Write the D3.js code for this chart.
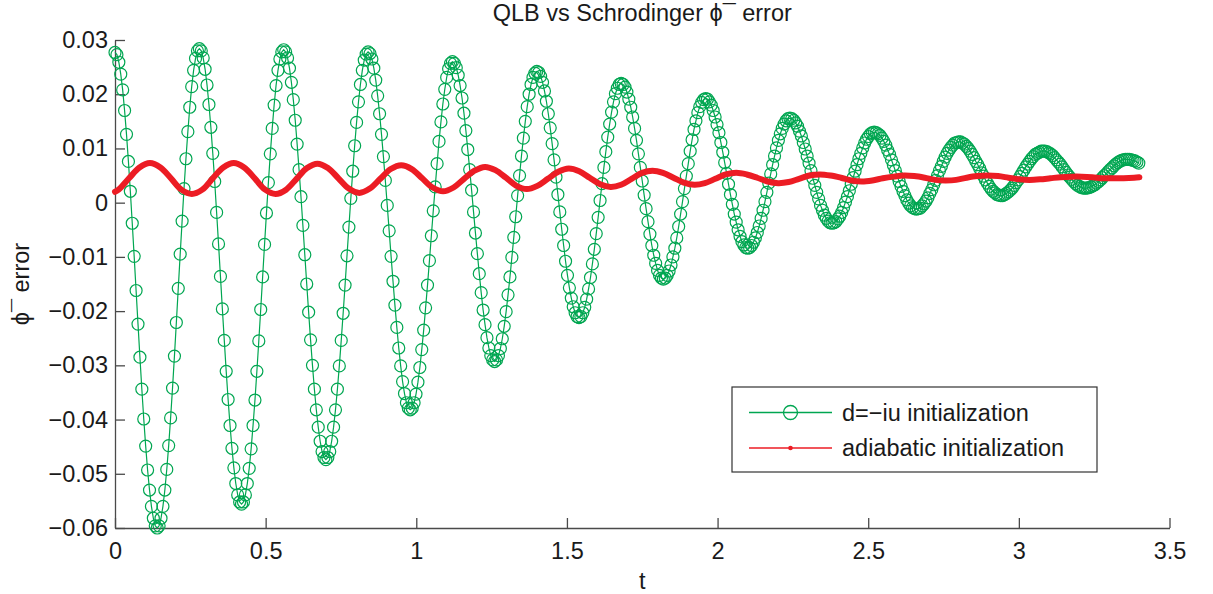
<!DOCTYPE html>
<html>
<head>
<meta charset="utf-8">
<script src="https://cdn.jsdelivr.net/npm/d3@7"></script>
<style>
  body { margin: 0; background: #fff; }
  text { font-family: "Liberation Sans", Arial, Helvetica, sans-serif; fill: #1a1a1a; }
</style>
</head>
<body>
<svg id="chart" width="1213" height="594"></svg>
<script>
// QLB vs Schrodinger phi- error — two initialisations, error vs time t.

const xTicks = [0, 0.5, 1, 1.5, 2, 2.5, 3, 3.5];
const yTicks = [0.03, 0.02, 0.01, 0, -0.01, -0.02, -0.03, -0.04, -0.05, -0.06];
const seriesNames = ["d=\u2212iu initialization", "adiabatic initialization"];

// d=-iu initialization: sampled every 0.28/44 in t, starting at t = 0
const GREEN_DT = 0.28 / 44;
const greenErr = [
  0.0277, 0.0273, 0.0259, 0.0237, 0.0208, 0.0170, 0.0126, 0.0076, 0.0021, -0.0038, -0.0099, -0.0162, -0.0224, -0.0285, -0.0344, -0.0399, -0.0449, -0.0493, -0.0530, -0.0560, -0.0582, -0.0596,
  -0.0600, -0.0596, -0.0582, -0.0560, -0.0530, -0.0492, -0.0448, -0.0397, -0.0342, -0.0283, -0.0221, -0.0158, -0.0095, -0.0034, 0.0026, 0.0081, 0.0131, 0.0176, 0.0214, 0.0244, 0.0266, 0.0280,
  0.0284, 0.0280, 0.0267, 0.0246, 0.0217, 0.0181, 0.0139, 0.0091, 0.0039, -0.0018, -0.0076, -0.0136, -0.0196, -0.0254, -0.0311, -0.0363, -0.0411, -0.0453, -0.0489, -0.0518, -0.0539, -0.0552,
  -0.0556, -0.0552, -0.0539, -0.0518, -0.0490, -0.0454, -0.0411, -0.0364, -0.0311, -0.0255, -0.0197, -0.0137, -0.0077, -0.0019, 0.0037, 0.0090, 0.0137, 0.0180, 0.0216, 0.0244, 0.0265, 0.0278,
  0.0282, 0.0278, 0.0267, 0.0248, 0.0222, 0.0190, 0.0152, 0.0108, 0.0061, 0.0011, -0.0042, -0.0096, -0.0150, -0.0202, -0.0253, -0.0300, -0.0344, -0.0382, -0.0414, -0.0440, -0.0459, -0.0470,
  -0.0474, -0.0470, -0.0459, -0.0440, -0.0414, -0.0382, -0.0344, -0.0301, -0.0254, -0.0204, -0.0152, -0.0098, -0.0045, 0.0008, 0.0058, 0.0105, 0.0148, 0.0186, 0.0218, 0.0244, 0.0263, 0.0274,
  0.0278, 0.0275, 0.0265, 0.0248, 0.0226, 0.0197, 0.0164, 0.0126, 0.0085, 0.0041, -0.0005, -0.0052, -0.0099, -0.0145, -0.0189, -0.0230, -0.0268, -0.0301, -0.0330, -0.0352, -0.0369, -0.0379,
  -0.0382, -0.0379, -0.0369, -0.0353, -0.0331, -0.0304, -0.0271, -0.0235, -0.0194, -0.0152, -0.0107, -0.0061, -0.0015, 0.0029, 0.0072, 0.0113, 0.0149, 0.0182, 0.0209, 0.0231, 0.0247, 0.0257,
  0.0260, 0.0257, 0.0249, 0.0235, 0.0216, 0.0193, 0.0165, 0.0133, 0.0098, 0.0061, 0.0023, -0.0017, -0.0056, -0.0094, -0.0131, -0.0166, -0.0198, -0.0225, -0.0249, -0.0268, -0.0282, -0.0290,
  -0.0293, -0.0290, -0.0282, -0.0269, -0.0251, -0.0228, -0.0201, -0.0170, -0.0137, -0.0101, -0.0064, -0.0026, 0.0013, 0.0050, 0.0086, 0.0119, 0.0150, 0.0177, 0.0200, 0.0218, 0.0231, 0.0239,
  0.0242, 0.0240, 0.0233, 0.0222, 0.0206, 0.0187, 0.0164, 0.0138, 0.0109, 0.0079, 0.0047, 0.0015, -0.0017, -0.0049, -0.0079, -0.0108, -0.0134, -0.0157, -0.0176, -0.0192, -0.0203, -0.0210,
  -0.0212, -0.0210, -0.0203, -0.0193, -0.0178, -0.0159, -0.0138, -0.0113, -0.0086, -0.0057, -0.0027, 0.0004, 0.0035, 0.0065, 0.0094, 0.0121, 0.0145, 0.0167, 0.0186, 0.0201, 0.0211, 0.0218,
  0.0220, 0.0218, 0.0213, 0.0204, 0.0191, 0.0176, 0.0158, 0.0137, 0.0115, 0.0090, 0.0065, 0.0040, 0.0014, -0.0011, -0.0035, -0.0058, -0.0079, -0.0097, -0.0112, -0.0125, -0.0134, -0.0139,
  -0.0141, -0.0139, -0.0134, -0.0126, -0.0115, -0.0100, -0.0084, -0.0065, -0.0044, -0.0021, 0.0002, 0.0026, 0.0049, 0.0072, 0.0095, 0.0116, 0.0135, 0.0151, 0.0166, 0.0177, 0.0185, 0.0190,
  0.0192, 0.0191, 0.0186, 0.0180, 0.0170, 0.0158, 0.0144, 0.0129, 0.0111, 0.0093, 0.0074, 0.0054, 0.0034, 0.0015, -0.0003, -0.0021, -0.0036, -0.0050, -0.0062, -0.0072, -0.0078, -0.0083,
  -0.0084, -0.0083, -0.0079, -0.0073, -0.0065, -0.0055, -0.0043, -0.0029, -0.0014, 0.0002, 0.0019, 0.0036, 0.0053, 0.0070, 0.0086, 0.0101, 0.0115, 0.0127, 0.0137, 0.0145, 0.0151, 0.0155,
  0.0156, 0.0155, 0.0152, 0.0147, 0.0141, 0.0132, 0.0123, 0.0111, 0.0099, 0.0086, 0.0073, 0.0059, 0.0045, 0.0032, 0.0019, 0.0007, -0.0005, -0.0014, -0.0023, -0.0029, -0.0034, -0.0037,
  -0.0038, -0.0037, -0.0035, -0.0030, -0.0025, -0.0018, -0.0009, 0.0001, 0.0011, 0.0022, 0.0034, 0.0046, 0.0058, 0.0070, 0.0081, 0.0091, 0.0101, 0.0110, 0.0117, 0.0122, 0.0127, 0.0129,
  0.0130, 0.0129, 0.0127, 0.0124, 0.0119, 0.0113, 0.0106, 0.0097, 0.0089, 0.0079, 0.0069, 0.0059, 0.0049, 0.0039, 0.0030, 0.0021, 0.0013, 0.0005, -0.0001, -0.0006, -0.0009, -0.0011,
  -0.0012, -0.0011, -0.0010, -0.0006, -0.0002, 0.0003, 0.0009, 0.0017, 0.0024, 0.0033, 0.0041, 0.0050, 0.0059, 0.0067, 0.0076, 0.0084, 0.0091, 0.0097, 0.0102, 0.0106, 0.0110, 0.0111,
  0.0112, 0.0112, 0.0110, 0.0108, 0.0104, 0.0100, 0.0095, 0.0089, 0.0083, 0.0076, 0.0070, 0.0063, 0.0055, 0.0049, 0.0042, 0.0036, 0.0030, 0.0025, 0.0021, 0.0018, 0.0015, 0.0014,
  0.0013, 0.0013, 0.0015, 0.0017, 0.0020, 0.0023, 0.0027, 0.0032, 0.0037, 0.0042, 0.0048, 0.0054, 0.0060, 0.0066, 0.0071, 0.0076, 0.0081, 0.0085, 0.0089, 0.0091, 0.0093, 0.0095,
  0.0095, 0.0095, 0.0094, 0.0092, 0.0090, 0.0087, 0.0083, 0.0079, 0.0075, 0.0071, 0.0066, 0.0061, 0.0056, 0.0051, 0.0047, 0.0043, 0.0039, 0.0035, 0.0032, 0.0030, 0.0028, 0.0027,
  0.0027, 0.0027, 0.0028, 0.0029, 0.0031, 0.0033, 0.0036, 0.0039, 0.0042, 0.0046, 0.0050, 0.0053, 0.0057, 0.0061, 0.0064, 0.0068, 0.0071, 0.0074, 0.0076, 0.0078, 0.0079, 0.0080,
  0.0080, 0.0080, 0.0079, 0.0078, 0.0077, 0.0075, 0.0073,
];

// adiabatic initialization: read at t = 0, then every 0.03475 from t = 0.0118, then t = 3.40
const RED_T0 = 0.0118, RED_DT = 0.03475;
const redErr = [
  0.0020,
  0.0024, 0.0045, 0.0065,
  0.0073, 0.0065, 0.0045, 0.0024, 0.0016, 0.0024, 0.0045, 0.0065,
  0.0073, 0.0065, 0.0045, 0.0024, 0.0016, 0.0024, 0.0044, 0.0064,
  0.0072, 0.0064, 0.0045, 0.0026, 0.0018, 0.0026, 0.0044, 0.0062,
  0.0069, 0.0062, 0.0045, 0.0028, 0.0021, 0.0028, 0.0044, 0.0059,
  0.0066, 0.0060, 0.0046, 0.0031, 0.0025, 0.0031, 0.0044, 0.0057,
  0.0063, 0.0058, 0.0046, 0.0034, 0.0029, 0.0033, 0.0044, 0.0055,
  0.0059, 0.0055, 0.0046, 0.0037, 0.0033, 0.0036, 0.0044, 0.0052,
  0.0055, 0.0052, 0.0046, 0.0039, 0.0036, 0.0038, 0.0044, 0.0050,
  0.0052, 0.0050, 0.0046, 0.0041, 0.0039, 0.0041, 0.0045, 0.0048,
  0.0050, 0.0049, 0.0046, 0.0042, 0.0041, 0.0042, 0.0046, 0.0049,
  0.0050, 0.0049, 0.0046, 0.0043, 0.0042, 0.0043, 0.0045, 0.0047,
  0.0048, 0.0048, 0.0047, 0.0045, 0.0045, 0.0045, 0.0046,
  0.0047,
];

const W = 1213, H = 594;
const LEFT = 115, RIGHT = 1169.5, TOP = 40, BOTTOM = 528;
const GREEN = "#00a651", RED = "#ec1c24", AXIS = "#4a4a4a";
const FONT = "23.5px 'Liberation Sans', Arial, sans-serif";
const PHI = "\u03d5\u00af";

const greenData = greenErr.map((v, i) => ({ t: i * GREEN_DT, v }));
const redData = redErr.map((v, i) => ({
  t: i === 0 ? 0 : i === redErr.length - 1 ? 3.40 : RED_T0 + (i - 1) * RED_DT,
  v,
}));

const svg = d3.select("#chart");
const x = d3.scaleLinear().domain([0, 3.5]).range([LEFT, RIGHT]);
const y = d3.scaleLinear().domain([-0.06, 0.03]).range([BOTTOM, TOP]);

// axes, MATLAB style: inward ticks, no box
const xAxis = d3.axisBottom(x).tickValues(xTicks).tickFormat(d3.format("")).tickSize(-10).tickSizeOuter(0).tickPadding(14);
const yAxis = d3.axisLeft(y).tickValues(yTicks).tickFormat(d3.format("")).tickSize(-10).tickSizeOuter(0).tickPadding(7);

const styleAxis = (s) => {
  s.select(".domain").attr("stroke", AXIS).attr("stroke-width", 1.3);
  s.selectAll(".tick line").attr("stroke", AXIS).attr("stroke-width", 1.3);
  s.selectAll(".tick text").style("font", FONT).style("fill", "#1a1a1a");
};
svg.append("g").attr("transform", `translate(0,${BOTTOM})`).call(xAxis).call(styleAxis);
svg.append("g").attr("transform", `translate(${LEFT},0)`).call(yAxis).call(styleAxis);

// titles
svg.append("text").attr("x", (LEFT + RIGHT) / 2).attr("y", 21)
  .attr("text-anchor", "middle").style("font", FONT)
  .text(`QLB vs Schrodinger ${PHI} error`);
svg.append("text").attr("x", (LEFT + RIGHT) / 2).attr("y", 589)
  .attr("text-anchor", "middle").style("font", FONT).text("t");
svg.append("text")
  .attr("transform", `translate(29,${(TOP + BOTTOM) / 2}) rotate(-90)`)
  .attr("text-anchor", "middle").style("font", FONT)
  .text(`${PHI} error`);

// d=-iu series: thin line + open circles
svg.append("path").datum(greenData)
  .attr("fill", "none").attr("stroke", GREEN).attr("stroke-width", 1.2)
  .attr("d", d3.line().x((d) => x(d.t)).y((d) => y(d.v)));
svg.append("g").selectAll("circle").data(greenData).enter().append("circle")
  .attr("cx", (d) => x(d.t)).attr("cy", (d) => y(d.v)).attr("r", 6)
  .attr("fill", "none").attr("stroke", GREEN).attr("stroke-width", 1.2);

// adiabatic series: dense dot markers read as a thick red line
svg.append("path").datum(redData)
  .attr("fill", "none").attr("stroke", RED).attr("stroke-width", 6)
  .attr("stroke-linecap", "round").attr("stroke-linejoin", "round")
  .attr("d", d3.line().curve(d3.curveCatmullRom).x((d) => x(d.t)).y((d) => y(d.v)));

// legend
const lg = svg.append("g").attr("transform", "translate(732,387)");
lg.append("rect").attr("width", 365).attr("height", 85)
  .attr("fill", "#fff").attr("stroke", "#333").attr("stroke-width", 1.2);
const rows = [
  { name: seriesNames[0], color: GREEN, y: 25.5 },
  { name: seriesNames[1], color: RED, y: 61 },
];
rows.forEach((r, i) => {
  lg.append("line").attr("x1", 17).attr("x2", 100).attr("y1", r.y).attr("y2", r.y)
    .attr("stroke", r.color).attr("stroke-width", 1.3);
  if (i === 0) {
    lg.append("circle").attr("cx", 58.5).attr("cy", r.y).attr("r", 7)
      .attr("fill", "none").attr("stroke", r.color).attr("stroke-width", 1.3);
  } else {
    lg.append("circle").attr("cx", 58.5).attr("cy", r.y).attr("r", 2.3).attr("fill", r.color);
  }
  lg.append("text").attr("x", 110).attr("y", r.y + 8).style("font", FONT).text(r.name);
});
</script>
</body>
</html>
